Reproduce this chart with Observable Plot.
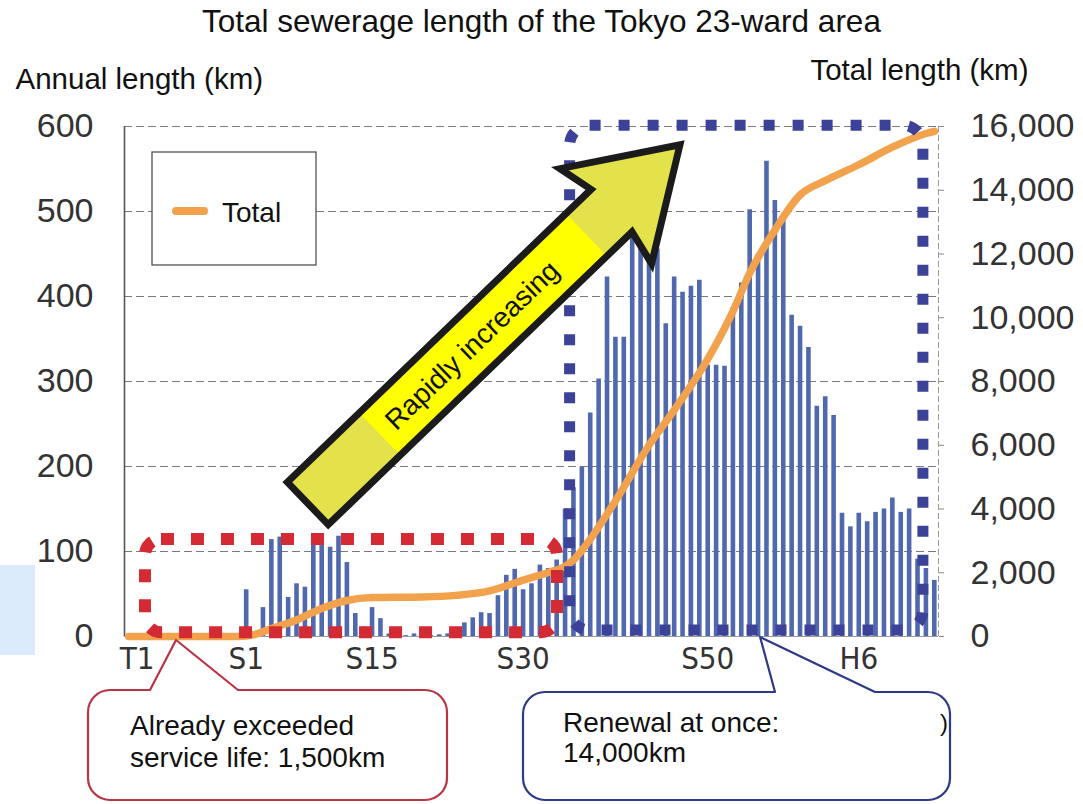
<!DOCTYPE html>
<html><head><meta charset="utf-8">
<script src="https://cdn.jsdelivr.net/npm/d3@7"></script>
<script src="https://cdn.jsdelivr.net/npm/@observablehq/plot@0.6"></script>
<style>
body{margin:0;background:#fff;}
#chart{position:relative;width:1083px;height:804px;overflow:hidden;}
#chart svg{display:block;}
</style></head><body><div id="chart"></div>
<script>
// ---- data ----
// annual constructed length (km), one value per fiscal year, index 0 = T1
const annualKm = [0,0,0,0,0,0,0,0,0,0,0,0,0,0,
  55,5,34,114,117,46,62,58,117,107,
  105,118,87,27,11,34,21,3,2,1,
  3,2,1,2,3,7,16,22,28,27,
  48,72,79,55,62,84,80,90,150,175,
  199,263,303,423,352,352,470,465,456,456,
  368,423,405,412,419,319,319,318,387,416,
  502,450,559,513,493,378,365,340,271,282,
  260,145,129,145,135,146,150,163,146,150,
  91,80,66];
// total length (km) read at selected years
const totalIdx = [0,13,15,17,20,23,26,29,35,39,43,47,50,52,53,54,58,62,65,69,72,74,77,80,83,87,91,95,96];
const totalKm  = [0,0,60,250,520,880,1130,1220,1240,1290,1430,1770,2010,2200,2400,2700,4250,6000,7100,8700,10200,11400,12750,13850,14300,14800,15350,15780,15850];
// axis ticks
const xTickIdx = [1,14,29,47,69,87];
const xTickLabels = ["T1","S1","S15","S30","S50","H6"];
const leftTicks = [0,100,200,300,400,500,600];
const rightTicks = [0,2000,4000,6000,8000,10000,12000,14000,16000];
const leftMax = 600, rightMax = 16000;

const annualData = annualKm.map((v,i)=>({i, v})).filter(d=>d.v>0);
const totalData = totalIdx.map((i,k)=>({i, t: totalKm[k]}));
const toLeft = t => t*leftMax/rightMax;

const FONT = "Liberation Sans, Arial, Helvetica, sans-serif";
const NARROW = "Liberation Sans Narrow, DejaVu Sans Condensed, Arial Narrow, sans-serif";

const plot = Plot.plot({
  width: 1083, height: 804,
  marginLeft: 124, marginRight: 145, marginTop: 126, marginBottom: 168,
  style: {fontFamily: FONT, background: "#fff", overflow: "visible"},
  x: {type: "linear", domain: [-0.5, 96.5]},
  y: {domain: [0, leftMax]},
  marks: [
    Plot.ruleY(leftTicks.filter(v=>v>0), {stroke:"#7a7a7a", strokeWidth:1.2, strokeDasharray:"8,4"}),
    Plot.ruleY([0], {stroke:"#9a9a9a", strokeWidth:1.2}),
    Plot.ruleX([96.5], {stroke:"#9a9a9a", strokeWidth:1, strokeDasharray:"6,3"}),
    Plot.ruleX([-0.5], {stroke:"#555", strokeWidth:1.6}),
    Plot.ruleX(annualData, {x:"i", y1:0, y2:"v", stroke:"#5068ae", strokeWidth:4.6}),
    Plot.line(totalData, {x:"i", y:d=>toLeft(d.t), stroke:"#f2a24c", strokeWidth:7.5, curve:"monotone-x", strokeLinecap:"round", strokeLinejoin:"round"}),
    Plot.axisY({anchor:"left", ticks:leftTicks, tickSize:0, tickPadding:31, label:null, fontSize:34, fontFamily:FONT, fill:"#333"}),
    Plot.axisY({anchor:"right", ticks:rightTicks.map(toLeft), tickFormat:v=>d3.format(",")(Math.round(v*rightMax/leftMax)), tickSize:5, tickPadding:27, label:null, fontSize:34, fontFamily:FONT, fill:"#333", stroke:"#888"}),
    Plot.axisX({ticks:xTickIdx, tickFormat:d=>xTickLabels[xTickIdx.indexOf(d)], tickSize:0, tickPadding:10, label:null, fontSize:31, fontFamily:NARROW, fill:"#333"}),
    Plot.text(["Total sewerage length of the Tokyo 23-ward area"], {frameAnchor:"top", dx:10, dy:-105, lineAnchor:"middle", fontSize:31.5, fontFamily:FONT, fill:"#111"}),
    Plot.text(["Annual length (km)"], {frameAnchor:"top-left", textAnchor:"start", lineAnchor:"middle", dx:-109, dy:-47, fontSize:29.5, fontFamily:FONT, fill:"#111"}),
    Plot.text(["Total length (km)"], {frameAnchor:"top-right", textAnchor:"end", lineAnchor:"middle", dx:90, dy:-56, fontSize:29.5, fontFamily:FONT, fill:"#111"})
  ]
});
document.getElementById("chart").appendChild(plot);

// ---- annotations, anchored through the plot's scales ----
const xs = plot.scale("x"), ys = plot.scale("y");
const X = v => xs.apply(v), Y = v => ys.apply(v);
const svg = d3.select(plot);

// stray slide fragment at the left edge
svg.append("rect").attr("x",0).attr("y",565).attr("width",35).attr("height",90).attr("fill","#dcebfb");

// dotted boxes (data ranges)
const redBox = {i1:2.0, i2:51.1, v1:4.5, v2:114};
const blueBox = {i1:52.6, i2:94.7, v1:7, v2:601};
function dotted(b, color, w, dash, r){
  svg.append("rect")
    .attr("x", X(b.i1)).attr("y", Y(b.v2))
    .attr("width", X(b.i2)-X(b.i1)).attr("height", Y(b.v1)-Y(b.v2))
    .attr("rx", r).attr("ry", r)
    .attr("fill","none").attr("stroke",color).attr("stroke-width",w).attr("stroke-dasharray",dash);
}
dotted(redBox, "#d42a33", 12, "13 17", 16);
dotted(blueBox, "#3c4297", 11, "11 18", 20);

// yellow arrow
const arrow = {tailI:21.4, tailV:156, tipI:65.75, tipV:578};
(function(){
  const tx = X(arrow.tailI), ty = Y(arrow.tailV), px = X(arrow.tipI), py = Y(arrow.tipV);
  const L = Math.hypot(px-tx, py-ty), ux = (px-tx)/L, uy = (py-ty)/L, nx = -uy, ny = ux;
  const hw = 29.5, hh = 66, hl = 95;
  const P = (s,n) => [tx+ux*s+nx*n, ty+uy*s+ny*n];
  const pts = [P(0,-hw),P(L-hl,-hw),P(L-hl-8,-hh),P(L,0),P(L-hl-8,hh),P(L-hl,hw),P(0,hw)];
  const defs = svg.append("defs");
  defs.append("clipPath").attr("id","arrowClip").append("polygon").attr("points", pts.map(p=>p.join(",")).join(" "));
  svg.append("polygon").attr("points", pts.map(p=>p.join(",")).join(" ")).attr("fill","#e3e24a");
  const band = [P(100,-80),P(387,-80),P(387,80),P(100,80)];
  svg.append("polygon").attr("points", band.map(p=>p.join(",")).join(" ")).attr("fill","#ffff00").attr("clip-path","url(#arrowClip)");
  svg.append("polygon").attr("points", pts.map(p=>p.join(",")).join(" ")).attr("fill","none").attr("stroke","#1b1b1b").attr("stroke-width",7).attr("stroke-linejoin","miter");
  const c = P(228, 0);
  const ang = Math.atan2(uy, ux)*180/Math.PI;
  svg.append("text").attr("transform",`translate(${c[0]},${c[1]}) rotate(${ang})`)
    .attr("text-anchor","middle").attr("dominant-baseline","central")
    .attr("font-family",FONT).attr("font-size",28).attr("fill","#111").text("Rapidly increasing");
})();

// legend
(function(){
  const lx = X(-0.5)+28, ly = Y(leftMax)+26;
  svg.append("rect").attr("x",lx).attr("y",ly).attr("width",164).attr("height",113).attr("fill","#fff").attr("stroke","#444").attr("stroke-width",1.2);
  svg.append("line").attr("x1",lx+24).attr("x2",lx+52).attr("y1",ly+59).attr("y2",ly+59).attr("stroke","#f2a24c").attr("stroke-width",8).attr("stroke-linecap","round");
  svg.append("text").attr("x",lx+70).attr("y",ly+60).attr("text-anchor","start").attr("dominant-baseline","central").attr("font-family",FONT).attr("font-size",28).attr("fill","#111").text("Total");
})();

// callouts below the axis
function callout(x0,y0,x1,y1,r,b0,ax,ay,b1,color){
  const d = `M${x0+r},${y0} L${b0},${y0} L${ax},${ay} L${b1},${y0} L${x1-r},${y0} A${r},${r} 0 0 1 ${x1},${y0+r} L${x1},${y1-r} A${r},${r} 0 0 1 ${x1-r},${y1} L${x0+r},${y1} A${r},${r} 0 0 1 ${x0},${y1-r} L${x0},${y0+r} A${r},${r} 0 0 1 ${x0+r},${y0} Z`;
  svg.append("path").attr("d",d).attr("fill","#fff").attr("stroke",color).attr("stroke-width",2.2).attr("stroke-linejoin","round");
}
callout(88,690,447,800,22,150,X(5.7),Y(-4.7),238,"#b83545");
callout(523,692,950,800,22,775,X(75.3),Y(-1.2),875,"#2e3a86");
function lines(x,yy,texts,size){
  texts.forEach((t,k)=>svg.append("text").attr("x",x).attr("y",yy[k]).attr("text-anchor","start").attr("dominant-baseline","central").attr("font-family",FONT).attr("font-size",size).attr("fill","#111").text(t));
}
lines(130,[725,757],["Already exceeded","service life: 1,500km"],28);
lines(563,[722,752],["Renewal at once:","14,000km"],28);
lines(940,[722],[")"],24);
</script></body></html>
